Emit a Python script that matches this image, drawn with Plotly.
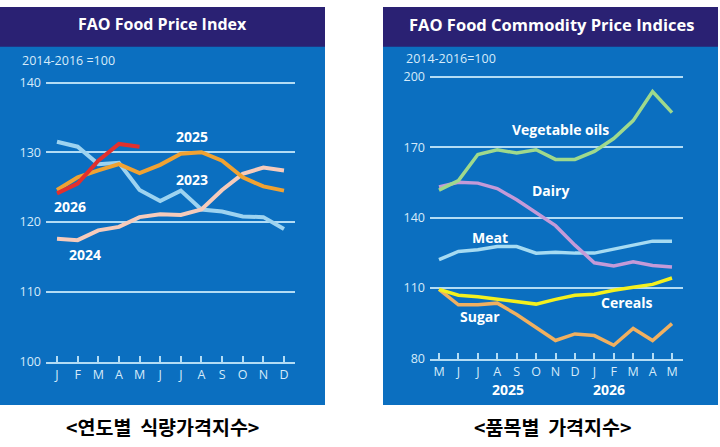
import plotly.graph_objects as go

W, H = 720, 447

# ---------------- data ----------------
months_left = ["J", "F", "M", "A", "M", "J", "J", "A", "S", "O", "N", "D"]
fpi_2023 = [131.5, 130.8, 128.3, 128.5, 124.6, 123.0, 124.5, 121.8, 121.5, 120.8, 120.7, 119.0]
fpi_2024 = [117.6, 117.4, 118.8, 119.3, 120.7, 121.1, 121.0, 121.8, 124.6, 126.9, 127.8, 127.4]
fpi_2025 = [124.6, 126.4, 127.4, 128.3, 127.0, 128.2, 129.8, 130.0, 128.8, 126.4, 125.1, 124.5]
fpi_2026 = [124.1, 125.5, 128.8, 131.2, 130.8]

months_right = ["M", "J", "J", "A", "S", "O", "N", "D", "J", "F", "M", "A", "M"]
veg_oils = [151.7, 155.8, 166.9, 168.9, 167.5, 168.9, 164.8, 164.8, 168.2, 173.7, 181.3, 193.7, 184.7]
dairy = [153.1, 155.1, 154.7, 152.4, 147.6, 142.1, 136.6, 128.3, 120.8, 119.4, 121.2, 119.6, 119.0]
meat = [122.1, 125.6, 126.3, 127.7, 127.7, 124.9, 125.3, 124.9, 124.9, 126.6, 128.0, 130.0, 130.0]
cereals = [109.5, 107.0, 106.3, 105.2, 104.3, 103.2, 105.2, 107.0, 107.4, 109.1, 110.4, 111.6, 114.3]
sugar = [109.5, 102.9, 102.9, 103.6, 98.8, 93.2, 87.7, 90.5, 89.8, 85.7, 92.8, 87.7, 94.9]

left_yticks = [100, 110, 120, 130, 140]
right_yticks = [80, 110, 140, 170, 200]

# ---------------- styles ----------------
PANEL = "#0b6fc0"
HEADER = "#2a2173"
GRID = "#b3dcf4"
TICKC = "#d6ebfa"
FONT = "Open Sans"


def px(x):
    return x / W


def py(y):
    return 1 - y / H


fig = go.Figure()

left_series = [
    ("2023", fpi_2023, "#9dd3f0"),
    ("2024", fpi_2024, "#f6cbbb"),
    ("2025", fpi_2025, "#f0a232"),
    ("2026", fpi_2026, "#e2302d"),
]
for name, vals, col in left_series:
    fig.add_trace(go.Scatter(x=list(range(len(vals))), y=vals, mode="lines", name=name,
                             line=dict(color=col, width=4), xaxis="x", yaxis="y",
                             hoverinfo="skip"))

right_series = [
    ("Meat", meat, "#a6dbf2"),
    ("Dairy", dairy, "#c49ad8"),
    ("Sugar", sugar, "#f0b060"),
    ("Cereals", cereals, "#f4f01e"),
    ("Vegetable oils", veg_oils, "#9fd98c"),
]
for name, vals, col in right_series:
    fig.add_trace(go.Scatter(x=list(range(len(vals))), y=vals, mode="lines", name=name,
                             line=dict(color=col, width=3.5), xaxis="x2", yaxis="y2",
                             hoverinfo="skip"))

# axis geometry (pixels)
lx0, lx1, lxJ, lxD = 46, 295, 57, 284
ly100, ly140 = 367, 79
lu = (lxD - lxJ) / 11
lpy = (ly100 - ly140) / 40.0
rx0, rx1, rxM0, rxM1 = 430, 683, 439, 672
ry80, ry200 = 364, 73
ru = (rxM1 - rxM0) / 12
rpy = (ry80 - ry200) / 120.0
ext_l, ext_r = 0.4, 1.0  # small headroom so the top gridline is kept

axis_common = dict(showgrid=False, zeroline=False, fixedrange=True)
fig.update_layout(
    width=W, height=H, margin=dict(l=0, r=0, t=0, b=0),
    paper_bgcolor="white", plot_bgcolor="rgba(0,0,0,0)", showlegend=False,
    font=dict(family=FONT, color=TICKC, size=12),
    xaxis=dict(domain=[px(lx0), px(lx1)],
               range=[-(lxJ - lx0) / lu, 11 + (lx1 - lxD) / lu],
               tickvals=list(range(12)), ticktext=months_left,
               ticks="inside", ticklen=6, tickwidth=1.5, tickcolor=GRID,
               showline=True, linecolor=GRID, linewidth=2,
               tickfont=dict(size=12.5, color=TICKC), anchor="y", **axis_common),
    yaxis=dict(domain=[py(ly100), py(ly140 - ext_l * lpy)], range=[100, 140 + ext_l],
               tickvals=left_yticks, showgrid=True, gridcolor=GRID, gridwidth=2,
               zeroline=False, fixedrange=True, ticks="", anchor="x",
               tickfont=dict(size=12.5, color=TICKC), ticklabelstandoff=4),
    xaxis2=dict(domain=[px(rx0), px(rx1)],
                range=[-(rxM0 - rx0) / ru, 12 + (rx1 - rxM1) / ru],
                tickvals=list(range(13)), ticktext=months_right,
                ticks="inside", ticklen=6, tickwidth=1.5, tickcolor=GRID,
                showline=True, linecolor=GRID, linewidth=2,
                tickfont=dict(size=12.5, color=TICKC), anchor="y2", **axis_common),
    yaxis2=dict(domain=[py(ry80), py(ry200 - ext_r * rpy)], range=[80, 200 + ext_r],
                tickvals=right_yticks, showgrid=True, gridcolor=GRID, gridwidth=2,
                zeroline=False, fixedrange=True, ticks="", anchor="x2",
                tickfont=dict(size=12.5, color=TICKC), ticklabelstandoff=4),
)

# panels
for x0, x1 in [(0, 325), (383, 718)]:
    fig.add_shape(type="rect", xref="paper", yref="paper", layer="below",
                  x0=px(x0), x1=px(x1), y0=py(412), y1=py(1),
                  fillcolor=PANEL, line=dict(width=0))
    fig.add_shape(type="rect", xref="paper", yref="paper", layer="below",
                  x0=px(x0), x1=px(x1), y0=py(42), y1=py(1),
                  fillcolor=HEADER, line=dict(width=0))


def ann(text, x, y, size=14, color="white", bold=True, xanchor="center"):
    t = f"<b>{text}</b>" if bold else text
    fig.add_annotation(text=t, x=px(x), y=py(y), xref="paper", yref="paper",
                       showarrow=False, xanchor=xanchor, yanchor="middle",
                       font=dict(size=size, color=color, family=FONT))


ann("FAO Food Price Index", 162, 19, size=16)
ann("FAO Food Commodity Price Indices", 551, 19, size=16.5)
ann("2014-2016 =100", 20, 56, size=12.5, color=TICKC, bold=False, xanchor="left")
ann("2014-2016=100", 404, 54, size=12.5, color=TICKC, bold=False, xanchor="left")

# left labels
ann("2025", 192, 135)
ann("2023", 192, 179)
ann("2026", 70, 207)
ann("2024", 85, 257)

# right labels
ann("Vegetable oils", 560, 128)
ann("Dairy", 550, 190)
ann("Meat", 490, 239)
ann("Cereals", 627, 306)
ann("Sugar", 480, 321)
ann("2025", 508, 396)
ann("2026", 609, 396)

# captions
for text, x in [("&lt;연도별  식량가격지수&gt;", 162), ("&lt;품목별  가격지수&gt;", 552)]:
    fig.add_annotation(text=f"<b>{text}</b>", x=px(x), y=py(434), xref="paper", yref="paper",
                       showarrow=False, xanchor="center", yanchor="middle",
                       font=dict(size=19.5, color="black", family="Noto Sans CJK KR"))

fig.write_html("out.html")
